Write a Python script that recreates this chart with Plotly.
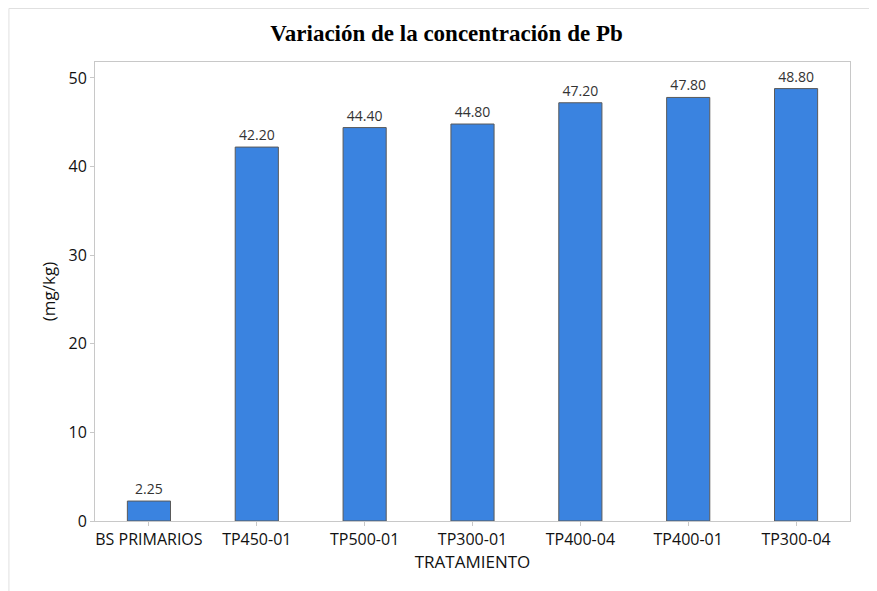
import plotly.graph_objects as go

tratamientos = ["BS PRIMARIOS", "TP450-01", "TP500-01", "TP300-01", "TP400-04", "TP400-01", "TP300-04"]
concentracion = [2.25, 42.20, 44.40, 44.80, 47.20, 47.80, 48.80]
etiquetas = ["%.2f" % v for v in concentracion]

fig = go.Figure(go.Bar(
    x=tratamientos,
    y=concentracion,
    text=etiquetas,
    textposition="outside",
    cliponaxis=False,
    textfont=dict(family="Open Sans", size=14, color="#333333"),
    marker=dict(color="#3A83E0", line=dict(color="#5a5a5a", width=1)),
    width=0.4,
))

axis_font = dict(family="Open Sans", size=16, color="#111111")
fig.update_layout(
    width=877, height=591,
    margin=dict(l=87, r=35, t=54, b=78),
    plot_bgcolor="white", paper_bgcolor="white",
    showlegend=False,
    title=dict(text="<b>Variación de la concentración de Pb</b>",
               font=dict(family="Liberation Serif", size=23, color="black"),
               x=0.5, xanchor="center", y=0.958, yanchor="middle"),
    xaxis=dict(title=dict(text="TRATAMIENTO", font=dict(family="Open Sans", size=17, color="#111111"), standoff=4),
               tickfont=axis_font, showline=True, linecolor="#c8c8c8", mirror=True,
               ticks="outside", ticklen=4, tickcolor="#c8c8c8", range=[-0.5, 6.5]),
    yaxis=dict(title=dict(text="(mg/kg)", font=dict(family="Open Sans", size=17, color="#111111"), standoff=8),
               tickfont=axis_font, showline=True, linecolor="#c8c8c8", mirror=True,
               ticks="outside", ticklen=4, tickcolor="#c8c8c8", range=[0, 51.8],
               tickvals=[0, 10, 20, 30, 40, 50], showgrid=False, zeroline=False),
)

# outer frame of the original graph (top and left edges visible)
fig.add_shape(type="line", xref="paper", yref="paper", x0=-0.114, x1=1.1, y0=1.1166, y1=1.1166,
              line=dict(color="#e0e0e0", width=1))
fig.add_shape(type="line", xref="paper", yref="paper", x0=-0.114, x1=-0.114, y0=-0.2, y1=1.1166,
              line=dict(color="#e0e0e0", width=1))

fig.write_html("out.html")
